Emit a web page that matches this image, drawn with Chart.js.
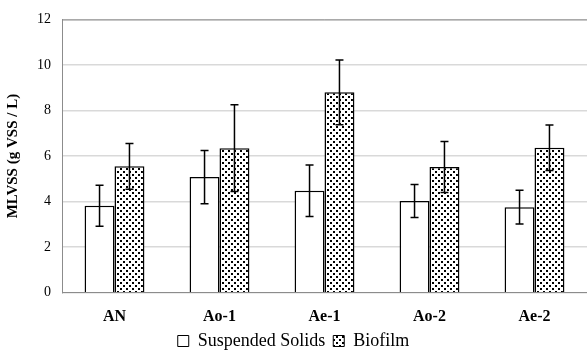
<!DOCTYPE html>
<html lang="en">
<head>
    <title>MLVSS chart</title>
    <script src="https://cdn.jsdelivr.net/npm/chart.js"></script>
    <style>
        html, body { margin: 0; padding: 0; background: #fff; }
        #wrap { width: 587px; height: 354px; }
    </style>
</head>
<body>
    <div id="wrap"><canvas id="mlvssChart" width="587" height="354"></canvas></div>
    <script>
        // values
        const reactors = ['AN', 'Ao-1', 'Ae-1', 'Ao-2', 'Ae-2'];
        const suspendedSolids = [3.82, 5.08, 4.48, 4.03, 3.76];
        const suspendedErr = [0.9, 1.17, 1.13, 0.72, 0.74];
        const biofilm = [5.55, 6.35, 8.8, 5.52, 6.37];
        const biofilmErr = [1.0, 1.9, 1.42, 1.12, 1.0];
        const yTicks = [0, 2, 4, 6, 8, 10, 12];

        const serif = "'Liberation Serif', 'Times New Roman', serif";
        Chart.defaults.font.family = serif;
        Chart.defaults.color = '#000';

        // dotted fill like the printed figure
        function dotPattern() {
            const c = document.createElement('canvas');
            c.width = 6; c.height = 6;
            const g = c.getContext('2d');
            g.fillStyle = '#fff';
            g.fillRect(0, 0, 6, 6);
            g.fillStyle = '#000';
            g.fillRect(0, 0, 2, 2);
            g.fillRect(3, 3, 2, 2);
            return g.createPattern(c, 'repeat');
        }

        const errorBars = {
            id: 'errorBars',
            afterDatasetsDraw(chart) {
                const ctx = chart.ctx;
                const y = chart.scales.y;
                const errs = [suspendedErr, biofilmErr];
                ctx.save();
                ctx.strokeStyle = '#000';
                ctx.lineWidth = 1.5;
                chart.data.datasets.forEach((ds, i) => {
                    chart.getDatasetMeta(i).data.forEach((bar, j) => {
                        const v = ds.data[j];
                        const top = y.getPixelForValue(v + errs[i][j]);
                        const bot = y.getPixelForValue(v - errs[i][j]);
                        ctx.beginPath();
                        ctx.moveTo(bar.x, top);
                        ctx.lineTo(bar.x, bot);
                        ctx.moveTo(bar.x - 4, top);
                        ctx.lineTo(bar.x + 4, top);
                        ctx.moveTo(bar.x - 4, bot);
                        ctx.lineTo(bar.x + 4, bot);
                        ctx.stroke();
                    });
                });
                ctx.restore();
            }
        };

        const frameLines = {
            id: 'frameLines',
            afterDraw(chart) {
                const a = chart.chartArea;
                const ctx = chart.ctx;
                ctx.save();
                ctx.strokeStyle = '#8c8c8c';
                ctx.lineWidth = 1;
                ctx.beginPath();
                ctx.moveTo(a.left, a.top + 0.5);
                ctx.lineTo(a.right, a.top + 0.5);
                ctx.stroke();
                ctx.restore();
            }
        };

        const ctx = document.getElementById('mlvssChart').getContext('2d');
        new Chart(ctx, {
            type: 'bar',
            data: {
                labels: reactors,
                datasets: [{
                    label: 'Suspended Solids',
                    data: suspendedSolids,
                    backgroundColor: '#fff',
                    borderColor: '#000',
                    borderWidth: 1.5
                }, {
                    label: 'Biofilm',
                    data: biofilm,
                    backgroundColor: dotPattern(),
                    borderColor: '#000',
                    borderWidth: 1.5
                }]
            },
            options: {
                responsive: false,
                animation: false,
                datasets: {
                    bar: { barPercentage: 1, categoryPercentage: 0.57 }
                },
                layout: { padding: { top: 8, right: 0, left: 0, bottom: 0 } },
                scales: {
                    x: {
                        grid: { display: false },
                        border: { color: '#8c8c8c', width: 1 },
                        afterFit: scale => { scale.height -= 8; },
                        ticks: {
                            color: '#000',
                            padding: 6,
                            font: { family: serif, size: 16, weight: 'bold' }
                        }
                    },
                    y: {
                        min: 0,
                        max: 12,
                        afterBuildTicks: axis => {
                            axis.ticks = yTicks.map(v => ({ value: v }));
                        },
                        grid: { color: '#d9d9d9', lineWidth: 1.5, drawTicks: false },
                        border: { color: '#8c8c8c', width: 1 },
                        ticks: {
                            color: '#000',
                            padding: 11,
                            font: { family: serif, size: 14 }
                        },
                        title: {
                            display: true,
                            text: 'MLVSS (g VSS / L)',
                            color: '#000',
                            padding: { bottom: 4 },
                            font: { family: serif, size: 15, weight: 'bold' }
                        }
                    }
                },
                plugins: {
                    tooltip: { enabled: false },
                    legend: {
                        position: 'bottom',
                        maxHeight: 30,
                        labels: {
                            color: '#000',
                            boxWidth: 11,
                            boxHeight: 11,
                            padding: 8,
                            font: { family: serif, size: 18 },
                            generateLabels: chart => chart.data.datasets.map((ds, i) => ({
                                text: ds.label,
                                fillStyle: ds.backgroundColor,
                                strokeStyle: '#000',
                                fontColor: '#000',
                                lineWidth: 1,
                                datasetIndex: i
                            }))
                        }
                    }
                }
            },
            plugins: [errorBars, frameLines]
        });
    </script>
</body>
</html>
